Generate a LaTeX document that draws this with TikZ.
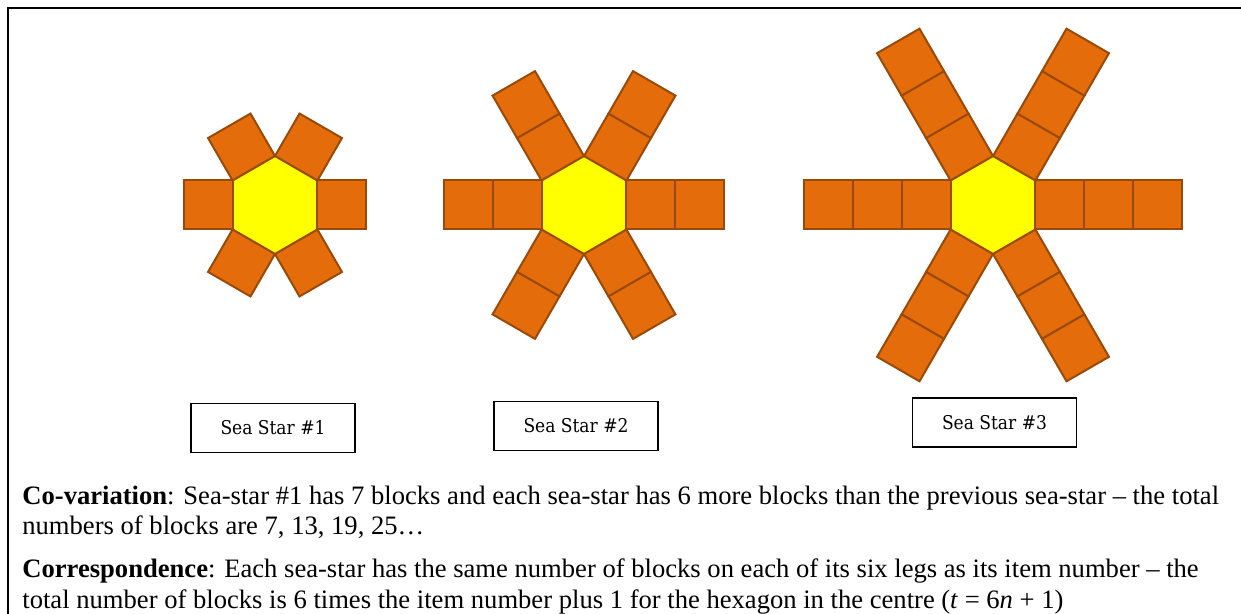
\documentclass[tikz,border=0pt]{standalone}
\usepackage{fontspec}
\setmainfont{Liberation Serif}
\newfontfamily\tagfont{DejaVu Serif Condensed}
\definecolor{blockfill}{HTML}{E46C0A}
\definecolor{blockedge}{HTML}{9A4A08}
\definecolor{hexfill}{HTML}{FFFF00}
\definecolor{hexedge}{HTML}{F0A000}

\begin{document}
\begin{tikzpicture}[
  x=0.5pt, y=-0.5pt,
  block/.style={fill=blockfill, draw=blockedge, line width=1pt, line join=miter},
  hexa/.style={fill=hexfill, draw=hexedge, line width=1pt},
  tag/.style={draw, line width=0.8pt, minimum width=82pt, minimum height=24.5pt, inner sep=0pt, font=\tagfont\fontsize{9.5}{11}\selectfont},
  note/.style={anchor=base west, inner sep=0pt, align=left, font=\fontsize{13.3}{15.25}\selectfont}
]
  \useasboundingbox (0,0) rectangle (1241,614);
  \draw[line width=1.1pt] (1241,8) -- (8,8) -- (8,614);

  % the three sea stars: hexagon and six legs of n blocks
  \foreach \cx/\n in {275/1, 584/2, 993/3}{
    \draw[hexa, shift={(\cx,205)}] (30:49) -- (90:49) -- (150:49) -- (210:49) -- (270:49) -- (330:49) -- cycle;
    \foreach \a in {0,60,...,300}
      \foreach \j in {1,...,\n}
        \draw[block, shift={(\cx,205)}, rotate=\a] ({42.44+49*(\j-1)},-24.5) rectangle ({42.44+49*\j},24.5);
  }

  \node[tag] (tag1) at (273,428) {Sea Star \#1};
  \node[tag] (tag2) at (576,426) {Sea Star \#2};
  \node[tag] (tag3) at (994.5,422.5) {Sea Star \#3};

  % base anchor sits on the last line of each paragraph
  \node[note] (covar) at (22,534.8) {\textbf{Co-variation}: Sea-star \#1 has 7 blocks and each sea-star has 6 more blocks than the previous sea-star -- the total\\numbers of blocks are 7, 13, 19, 25\ldots};
  \node[note] (corresp) at (22,608) {\textbf{Correspondence}: Each sea-star has the same number of blocks on each of its six legs as its item number -- the\\total number of blocks is 6 times the item number plus 1 for the hexagon in the centre (\textit{t} = 6\textit{n} + 1)};
\end{tikzpicture}
\end{document}
